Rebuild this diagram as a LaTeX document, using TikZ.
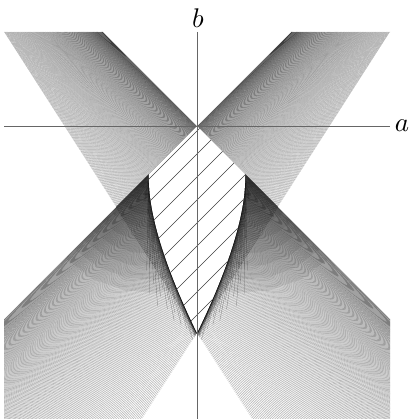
\documentclass[tikz,border=0pt]{standalone}
\begin{document}
\begin{tikzpicture}[x=1pt,y=-1pt,
  famline/.style={line width=0.25pt,black,opacity=0.42},
  envline/.style={line width=0.3pt,black,opacity=0.4},
  darkpatch/.style={fill=black,draw=none,opacity=0.07},
  axisline/.style={line width=0.7pt,black!60},
  hatchline/.style={line width=0.5pt,black!75},
  whitepatch/.style={fill=white,draw=none},
  lbl/.style={scale=2.7,inner sep=0pt,anchor=base}]
\useasboundingbox (0,0) rectangle (410,419);
\begin{scope}
  \clip (4,32) rectangle (390,419);
  % two fans of lines
  \foreach \i in {0,...,210}{
    \pgfmathsetmacro\uu{\i/210}
    \pgfmathsetmacro\ss{\uu*(0.45+0.55*\uu)}
    \draw[famline] ({103-99*\ss},32) -- ({490-238*\ss},419);
    \draw[famline] ({291+99*\ss},32) -- ({-96+238*\ss},419);
  }
  % tangent rays hugging the curved sides of the leaf
  \foreach \i in {0,...,90}{
    \pgfmathsetmacro\tp{\i/90}
    \pgfmathsetmacro\px{(1-\tp)^3*245+3*(1-\tp)^2*\tp*247+3*(1-\tp)*\tp^2*214+\tp^3*197}
    \pgfmathsetmacro\py{(1-\tp)^3*174+3*(1-\tp)^2*\tp*225+3*(1-\tp)*\tp^2*298+\tp^3*333}
    \pgfmathsetmacro\tdx{(1-\tp)^2*2+2*(1-\tp)*\tp*(-33)+\tp^2*(-17)}
    \pgfmathsetmacro\tdy{(1-\tp)^2*51+2*(1-\tp)*\tp*73+\tp^2*35}
    \pgfmathsetmacro\ang{atan2(\tdy,\tdx)}
    \pgfmathsetmacro\len{(40+90*frac(\i*0.618))*(1-0.6*\tp)}
    \draw[envline] (\px,\py) -- ({\px+\len*cos(\ang)},{\py+\len*sin(\ang)});
    \draw[envline] ({394-\px},\py) -- ({394-\px-\len*cos(\ang)},{\py+\len*sin(\ang)});
  }
  % soft dark wedges below the two side corners of the leaf
  \foreach \r in {15,28,...,120}{
    \fill[darkpatch] (149,174)
      -- ({149+\r*cos(70)},{174+\r*sin(70)}) -- ({149+\r*cos(86)},{174+\r*sin(86)})
      -- ({149+\r*cos(102)},{174+\r*sin(102)}) -- ({149+\r*cos(118)},{174+\r*sin(118)})
      -- ({149+\r*cos(135)},{174+\r*sin(135)}) -- cycle;
    \fill[darkpatch] (245,174)
      -- ({245-\r*cos(70)},{174+\r*sin(70)}) -- ({245-\r*cos(86)},{174+\r*sin(86)})
      -- ({245-\r*cos(102)},{174+\r*sin(102)}) -- ({245-\r*cos(118)},{174+\r*sin(118)})
      -- ({245-\r*cos(135)},{174+\r*sin(135)}) -- cycle;
  }
  % darker fringe just below the axis beside the upper edges of the leaf
  \foreach \k in {3,4,...,24}{
    \draw[envline,opacity=0.25] ({197-0.4*\k},{126+\k}) -- ({197-48-0.2*\k},{174+\k*1.1});
    \draw[envline,opacity=0.25] ({197+0.4*\k},{126+\k}) -- ({197+48+0.2*\k},{174+\k*1.1});
  }
\end{scope}
% white regions
\fill[whitepatch] (103,32) -- (291,32) -- (197,126) -- cycle;
\fill[whitepatch] (4,32) -- (116.1,206.9) -- (4,319) -- cycle;
\fill[whitepatch] (390,32) -- (277.9,206.9) -- (390,319) -- cycle;
\fill[whitepatch] (197,333) -- (252.1,419) -- (141.9,419) -- cycle;
\path[whitepatch] (197,126) -- (245,174) .. controls (247,225) and (214,298) .. (197,333)
   .. controls (180,298) and (147,225) .. (149,174) -- cycle;
% hatching
\begin{scope}
  \clip (197,126) -- (245,174) .. controls (247,225) and (214,298) .. (197,333)
   .. controls (180,298) and (147,225) .. (149,174) -- cycle;
  \foreach \c in {328,351,...,512}{
    \draw[hatchline] ({\c-100},100) -- ({\c-350},350);
  }
\end{scope}
% axes
\coordinate (aleft) at (4,126);
\coordinate (aright) at (390,126);
\coordinate (btop) at (197,32);
\coordinate (bbot) at (197,419);
\draw[axisline] (aleft) -- (aright);
\draw[axisline] (btop) -- (bbot);
\node[lbl] (alab) at (402,132) {$a$};
\node[lbl] (blab) at (198,28) {$b$};
\end{tikzpicture}
\end{document}
